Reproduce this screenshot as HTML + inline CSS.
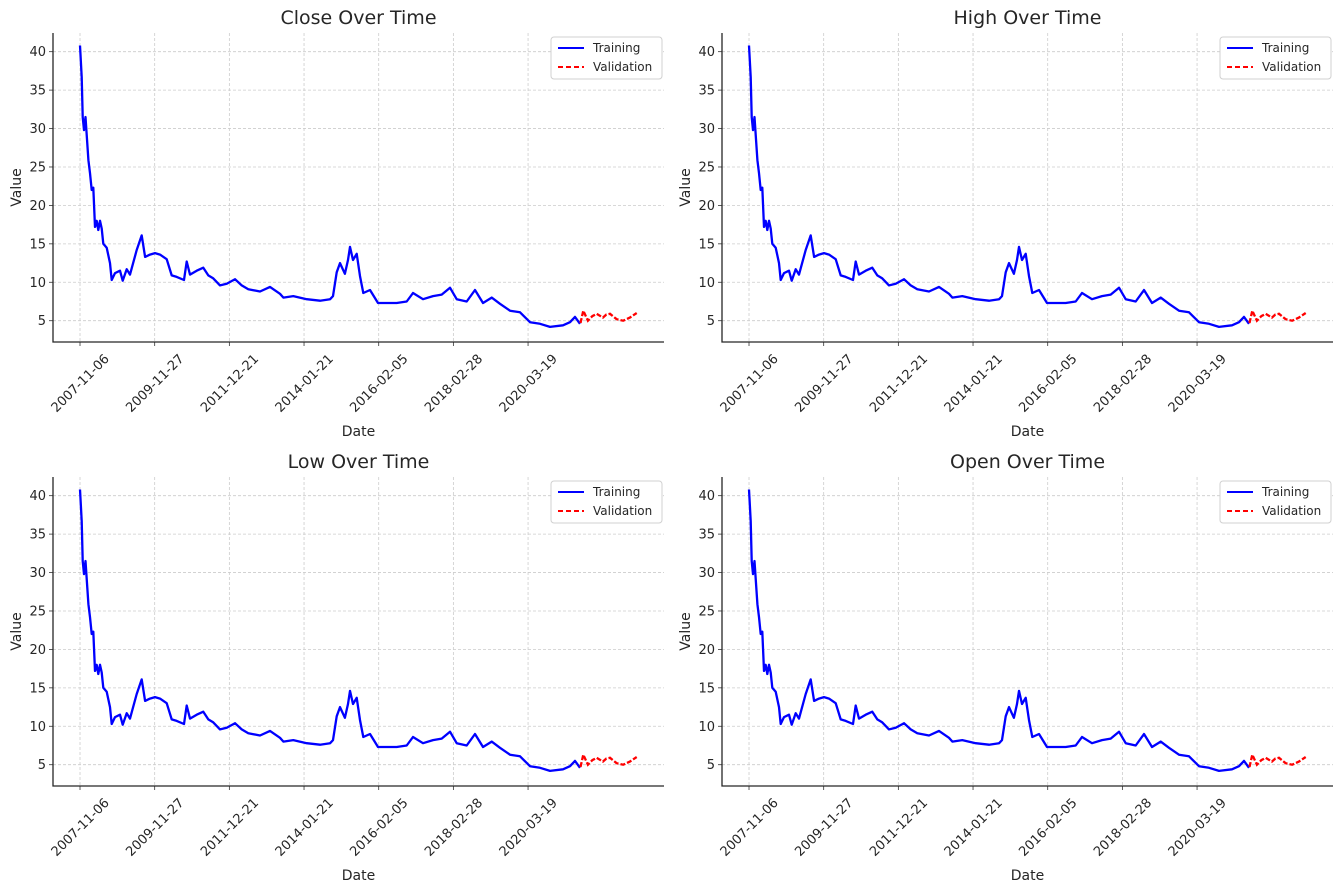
<!DOCTYPE html>
<html><head><meta charset="utf-8"><style>
html,body{margin:0;padding:0;background:#fff;}
svg{display:block;font-family:"DejaVu Sans","Liberation Sans",sans-serif;}
</style></head><body>
<svg id="fig" width="1342" height="892" viewBox="0 0 1342 892" xmlns="http://www.w3.org/2000/svg"></svg>
<script>
const trainDays = [0,17,27,40,55,84,101,118,134,151,168,184,201,218,235,269,302,319,352,403,430,470,503,571,621,655,705,755,806,873,923,974,1047,1074,1108,1175,1242,1292,1342,1410,1477,1561,1628,1695,1813,1913,2014,2048,2148,2283,2417,2518,2548,2585,2618,2668,2699,2719,2749,2786,2820,2853,2920,3001,3088,3189,3290,3353,3454,3555,3642,3726,3793,3894,3978,4058,4146,4229,4330,4431,4532,4632,4733,4864,4934,4985,5035];
const trainVals = [40.8,36.7,31.5,29.8,31.5,25.9,24.2,22,22.3,17.2,18,16.8,18,17,15,14.5,12.5,10.3,11.2,11.5,10.2,11.7,11,14.2,16.1,13.3,13.6,13.8,13.6,13,10.9,10.7,10.3,12.7,11,11.5,11.9,10.9,10.5,9.6,9.8,10.4,9.6,9.1,8.8,9.4,8.5,8.0,8.2,7.8,7.6,7.8,8.2,11.3,12.5,11.1,12.9,14.6,12.9,13.7,10.8,8.6,9.0,7.3,7.3,7.3,7.5,8.6,7.8,8.2,8.4,9.3,7.8,7.5,9.0,7.3,8.0,7.2,6.3,6.1,4.8,4.6,4.2,4.4,4.8,5.5,4.6];
const valDays = [5040,5068,5115,5160,5203,5266,5300,5337,5404,5470,5538,5606];
const valVals = [4.7,6.3,5.0,5.6,5.9,5.4,5.8,5.9,5.2,5.0,5.4,6.0];
const yTicks = [5,10,15,20,25,30,35,40];
const xTickDays = [0,752,1504,2256,3008,3760,4512];
const xTickLabels = ["2007-11-06","2009-11-27","2011-12-21","2014-01-21","2016-02-05","2018-02-28","2020-03-19"];
const titles = ["Close Over Time","High Over Time","Low Over Time","Open Over Time"];

const NS="http://www.w3.org/2000/svg";
const fig=document.getElementById('fig');
function mk(tag,attrs,parent){const e=document.createElementNS(NS,tag);for(const k in attrs)e.setAttribute(k,attrs[k]);(parent||fig).appendChild(e);return e;}

const offsets=[[0,0],[669,0],[0,444],[669,444]];
titles.forEach((title,i)=>{
  const ox=offsets[i][0], oy=offsets[i][1];
  const L=53+ox, R=664+ox, T=33+oy, B=342+oy;
  const xs=d=>L+(d+272)/(5881+272)*(R-L);
  const ys=v=>B-(v-2.23)/(42.43-2.23)*(B-T);
  const g=mk('g',{});
  
  
  yTicks.forEach(v=>{
    const l=mk('line',{x1:L,x2:R,y1:ys(v),y2:ys(v),stroke:'#cccccc','stroke-width':0.8,'stroke-dasharray':'3,2'},g);
    
    
    const tk=mk('line',{x1:L-4,x2:L,y1:ys(v),y2:ys(v),stroke:'#333','stroke-width':0.8},g);
    
    
    const t=mk('text',{x:L-7,y:ys(v)+4.5,'text-anchor':'end','font-size':13,fill:'#262626'},g);
    t.textContent=v;
    
    
  });
  xTickDays.forEach((d,j)=>{
    const x=xs(d);
    const l=mk('line',{x1:x,x2:x,y1:T,y2:B,stroke:'#cccccc','stroke-width':0.8,'stroke-dasharray':'3,2'},g);
    
    
    const tk=mk('line',{x1:x,x2:x,y1:B,y2:B+4,stroke:'#333','stroke-width':0.8},g);
    
    
    const cy=B+41;
    const t=mk('text',{x:x,y:cy+4.5,'text-anchor':'middle','font-size':13,fill:'#262626',transform:`rotate(-45 ${x} ${cy})`},g);
    t.textContent=xTickLabels[j];
    
    
  });
  const sp=mk('path',{d:`M${L},${T} L${L},${B} L${R},${B}`,fill:'none',stroke:'#262626','stroke-width':1.3},g);
  
  
  const tp=mk('polyline',{points:trainDays.map((d,k)=>xs(d).toFixed(1)+','+ys(trainVals[k]).toFixed(1)).join(' '),fill:'none',stroke:'#0000ff','stroke-width':2.3,'stroke-linejoin':'round'},g);
  
  
  const vp=mk('polyline',{points:valDays.map((d,k)=>xs(d).toFixed(1)+','+ys(valVals[k]).toFixed(1)).join(' '),fill:'none',stroke:'#ff0000','stroke-width':2.3,'stroke-dasharray':'5,2'},g);
  
  
  const tt=mk('text',{x:(L+R)/2,y:oy+24,'text-anchor':'middle','font-size':19,fill:'#262626'},g);
  tt.textContent=title;
  
  
  const xl=mk('text',{x:(L+R)/2,y:oy+436,'text-anchor':'middle','font-size':14,fill:'#262626'},g);
  xl.textContent='Date';
  
  
  const yl=mk('text',{x:ox+21,y:(T+B)/2,'text-anchor':'middle','font-size':14,fill:'#262626',transform:`rotate(-90 ${ox+21} ${(T+B)/2})`},g);
  yl.textContent='Value';
  
  
  const lg=mk('g',{},g);
  
  
  mk('rect',{x:R-113,y:T+4,width:111,height:42,rx:3,fill:'#fff',stroke:'#d0d0d0','stroke-width':1},lg);
  const e1=mk('line',{x1:R-106,x2:R-80,y1:T+15,y2:T+15,stroke:'#0000ff','stroke-width':2},lg);
  
  
  const t1=mk('text',{x:R-71,y:T+19,'font-size':12,fill:'#262626'},lg);
  t1.textContent='Training';
  
  
  const e2=mk('line',{x1:R-106,x2:R-80,y1:T+34,y2:T+34,stroke:'#ff0000','stroke-width':2,'stroke-dasharray':'5,3'},lg);
  
  
  const t2=mk('text',{x:R-71,y:T+38,'font-size':12,fill:'#262626'},lg);
  t2.textContent='Validation';
  
  
});
</script>
</body></html>
